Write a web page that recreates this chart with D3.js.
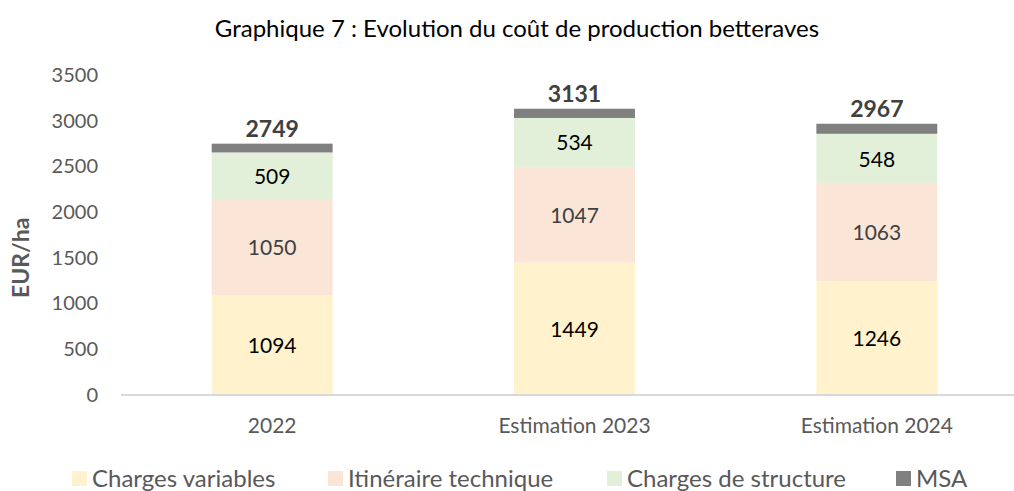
<!DOCTYPE html>
<html>
<head>
<meta charset="utf-8">
<script src="https://cdn.jsdelivr.net/npm/d3@7"></script>
<style>
  body { margin: 0; background: #fff; }
  svg { font-family: Lato, "Open Sans", sans-serif; }
</style>
</head>
<body>
<div id="chart"></div>
<script>
// Data
var categories = ["2022", "Estimation 2023", "Estimation 2024"];
var seriesNames = ["Charges variables", "Itinéraire technique", "Charges de structure", "MSA"];
var chargesVariables = [1094, 1449, 1246];
var itineraireTechnique = [1050, 1047, 1063];
var chargesStructure = [509, 534, 548];
var msa = [96, 101, 110];
var totals = [2749, 3131, 2967];
var yTicks = [0, 500, 1000, 1500, 2000, 2500, 3000, 3500];

var colors = ["#FFF2CC", "#FBE5D6", "#E2F0D9", "#808080"];
var labelColors = ["#000", "#404040", "#000", null];

var svgWidth = 1014, svgHeight = 491;

var svg = d3.select("#chart").append("svg")
  .attr("width", svgWidth)
  .attr("height", svgHeight);

// build table for stacking
var table = categories.map(function(c, i) {
  return {
    cat: c,
    "Charges variables": chargesVariables[i],
    "Itinéraire technique": itineraireTechnique[i],
    "Charges de structure": chargesStructure[i],
    "MSA": msa[i],
    total: totals[i]
  };
});
var stacked = d3.stack().keys(seriesNames)(table);

var x = d3.scaleBand()
  .domain(categories)
  .range([121, 1028])
  .paddingInner(0.6)
  .paddingOuter(0.3);

var y = d3.scaleLinear()
  .domain([0, 3500])
  .range([395, 75]);

// title
svg.append("text")
  .attr("x", 517)
  .attr("y", 37)
  .attr("text-anchor", "middle")
  .attr("font-size", "24px")
  .attr("fill", "#000")
  .text("Graphique 7 : Evolution du coût de production betteraves");

// y axis
var yAxis = svg.append("g")
  .attr("transform", "translate(121,0)")
  .call(d3.axisLeft(y).tickValues(yTicks).tickFormat(d3.format("d")).tickSize(0).tickPadding(23));
yAxis.select(".domain").remove();
yAxis.selectAll("text")
  .attr("font-size", "20px")
  .attr("fill", "#595959")
  .attr("font-family", "Lato, 'Open Sans', sans-serif");

// y label
svg.append("text")
  .attr("transform", "translate(29," + y(1500) + ") rotate(-90)")
  .attr("text-anchor", "middle")
  .attr("font-size", "23px")
  .attr("font-weight", "bold")
  .attr("fill", "#595959")
  .text("EUR/ha");

// bars
var layers = svg.selectAll(".layer")
  .data(stacked)
  .enter().append("g")
  .attr("class", "layer")
  .attr("fill", function(d, i) { return colors[i]; });

layers.selectAll("rect")
  .data(function(d) { return d; })
  .enter().append("rect")
  .attr("x", function(d) { return x(d.data.cat); })
  .attr("width", x.bandwidth())
  .attr("y", function(d) { return y(d[1]); })
  .attr("height", function(d) { return y(d[0]) - y(d[1]); });

// x axis
var xAxis = svg.append("g")
  .attr("transform", "translate(0,395)")
  .call(d3.axisBottom(x).tickSize(0).tickPadding(23));
xAxis.select(".domain")
  .attr("stroke", "#D9D9D9")
  .attr("stroke-width", 2)
  .attr("d", "M121,0H1014");
xAxis.selectAll("text")
  .attr("font-size", "21px")
  .attr("fill", "#595959")
  .attr("font-family", "Lato, 'Open Sans', sans-serif");

// segment labels (first three series)
stacked.slice(0, 3).forEach(function(layer, li) {
  svg.append("g").selectAll("text")
    .data(layer)
    .enter().append("text")
    .attr("x", function(d) { return x(d.data.cat) + x.bandwidth() / 2; })
    .attr("y", function(d) { return (y(d[0]) + y(d[1])) / 2 + 8; })
    .attr("text-anchor", "middle")
    .attr("font-size", "21px")
    .attr("fill", labelColors[li])
    .text(function(d) { return d[1] - d[0]; });
});

// totals
svg.append("g").selectAll("text")
  .data(table)
  .enter().append("text")
  .attr("x", function(d) { return x(d.cat) + x.bandwidth() / 2; })
  .attr("y", function(d) { return y(d.total) - 7; })
  .attr("text-anchor", "middle")
  .attr("font-size", "23px")
  .attr("font-weight", "bold")
  .attr("fill", "#404040")
  .text(function(d) { return d.total; });

// legend
var legendX = [72, 328, 607, 896];
var legend = svg.append("g").selectAll("g")
  .data(seriesNames)
  .enter().append("g")
  .attr("transform", function(d, i) { return "translate(" + legendX[i] + ",471)"; });
legend.append("rect")
  .attr("width", 15)
  .attr("height", 15)
  .attr("y", 0)
  .attr("fill", function(d, i) { return colors[i]; });
legend.append("text")
  .attr("x", 20)
  .attr("y", 16)
  .attr("font-size", "24px")
  .attr("fill", "#595959")
  .text(function(d) { return d; });
</script>
</body>
</html>
